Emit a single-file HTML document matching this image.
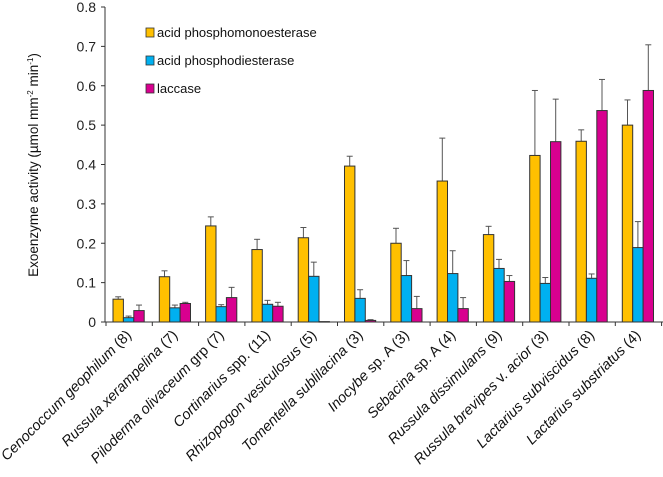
<!DOCTYPE html>
<html><head><meta charset="utf-8"><style>
html,body{margin:0;padding:0;background:#fff;}
svg{display:block;font-family:"Liberation Sans",Arial,sans-serif;}
</style></head><body>
<svg id="chart" width="663" height="477" viewBox="0 0 663 477">
<g id="plot"></g>
<text transform="translate(38,165) rotate(-90)" text-anchor="middle" font-size="13.5" fill="#111">Exoenzyme activity (µmol mm<tspan font-size="8" dy="-5">-2</tspan><tspan dy="5"> min</tspan><tspan font-size="8" dy="-5">-1</tspan><tspan dy="5">)</tspan></text>
<g font-size="13" fill="#111">
<g><rect x="146" y="28" width="8" height="9" fill="#FFC000" stroke="#333" stroke-width="0.8"/><text x="157" y="37">acid phosphomonoesterase</text></g>
<g><rect x="146" y="56" width="8" height="9" fill="#00B0F0" stroke="#333" stroke-width="0.8"/><text x="157" y="65">acid phosphodiesterase</text></g>
<g><rect x="146" y="84" width="8" height="9" fill="#D8008F" stroke="#333" stroke-width="0.8"/><text x="157" y="93">laccase</text></g>
</g>
</svg>
<script>
const categories = [
 [["Cenococcum geophilum",1],[" (8)",0]],
 [["Russula xerampelina",1],[" (7)",0]],
 [["Piloderma olivaceum",1],[" grp (7)",0]],
 [["Cortinarius",1],[" spp. (11)",0]],
 [["Rhizopogon vesiculosus",1],[" (5)",0]],
 [["Tomentella sublilacina",1],[" (3)",0]],
 [["Inocybe",1],[" sp. A (3)",0]],
 [["Sebacina",1],[" sp. A (4)",0]],
 [["Russula dissimulans",1],[" (9)",0]],
 [["Russula brevipes",1],[" v. ",0],["acior",1],[" (3)",0]],
 [["Lactarius subviscidus",1],[" (8)",0]],
 [["Lactarius substriatus",1],[" (4)",0]]
];
const monoVals  = [0.058,0.115,0.244,0.184,0.214,0.396,0.200,0.358,0.222,0.423,0.459,0.500];
const monoErr   = [0.006,0.015,0.023,0.026,0.026,0.025,0.038,0.109,0.021,0.165,0.029,0.064];
const diVals    = [0.011,0.036,0.039,0.045,0.116,0.060,0.118,0.123,0.136,0.098,0.111,0.189];
const diErr     = [0.004,0.007,0.005,0.010,0.036,0.022,0.038,0.058,0.023,0.015,0.011,0.066];
const lacVals   = [0.029,0.047,0.062,0.040,0.001,0.004,0.034,0.034,0.103,0.458,0.537,0.588];
const lacErr    = [0.014,0.003,0.026,0.010,0.000,0.002,0.031,0.028,0.015,0.108,0.079,0.116];
const yTicks = [0,0.1,0.2,0.3,0.4,0.5,0.6,0.7,0.8];

const NS="http://www.w3.org/2000/svg";
const plot=document.getElementById('plot');
const X0=106, GW=46.3, Y0=322, YTOP=7, YMAX=0.8;
const y=v=>Y0-(v/YMAX)*(Y0-YTOP);
const gx=i=>X0+i*GW;
function mk(tag,attrs,parent){const e=document.createElementNS(NS,tag);for(const k in attrs)e.setAttribute(k,attrs[k]);(parent||plot).appendChild(e);return e;}

const ya=mk('line',{x1:105,y1:YTOP,x2:105,y2:Y0,stroke:'#333','stroke-width':1});


const xa=mk('line',{x1:105,y1:Y0,x2:663,y2:Y0,stroke:'#333','stroke-width':1});


yTicks.forEach(t=>{
 mk('line',{x1:101,y1:y(t),x2:105,y2:y(t),stroke:'#333'});
 const tl=mk('text',{x:96,y:y(t)+5,'text-anchor':'end','font-size':14,fill:'#222'});
 tl.textContent=(t===0?'0':t.toFixed(1));
 
 
});
for(let i=0;i<=12;i++){mk('line',{x1:gx(i),y1:Y0,x2:gx(i),y2:Y0+4,stroke:'#333'});}

const series=[[monoVals,monoErr,'#FFC000','bar-phosphomonoesterase'],[diVals,diErr,'#00B0F0','bar-phosphodiesterase'],[lacVals,lacErr,'#D8008F','bar-laccase']];
const BW=10.4, OFF=7;
categories.forEach((c,i)=>{
 series.forEach((s,k)=>{
  const v=s[0][i], e=s[1][i];
  const bx=gx(i)+OFF+k*BW, top=y(v);
  if(e>0){
   const cx=bx+BW/2, et=y(v+e);
   mk('line',{x1:cx,y1:top,x2:cx,y2:et,stroke:'#555','stroke-width':1});
   mk('line',{x1:cx-3,y1:et,x2:cx+3,y2:et,stroke:'#555','stroke-width':1});
  }
  const r=mk('rect',{x:bx,y:top,width:BW,height:Math.max(Y0-top,0.5),fill:s[2],stroke:'#333','stroke-width':1});
  
  
 });
 const cx=gx(i)+GW/2+3;
 const t=mk('text',{transform:`translate(${cx},336) rotate(-45)`,'text-anchor':'end','font-size':14.5,fill:'#111'});
 
 
 c.forEach(p=>{const ts=mk('tspan',{},t);if(p[1])ts.setAttribute('font-style','italic');ts.textContent=p[0];});
});
</script>
</body></html>
